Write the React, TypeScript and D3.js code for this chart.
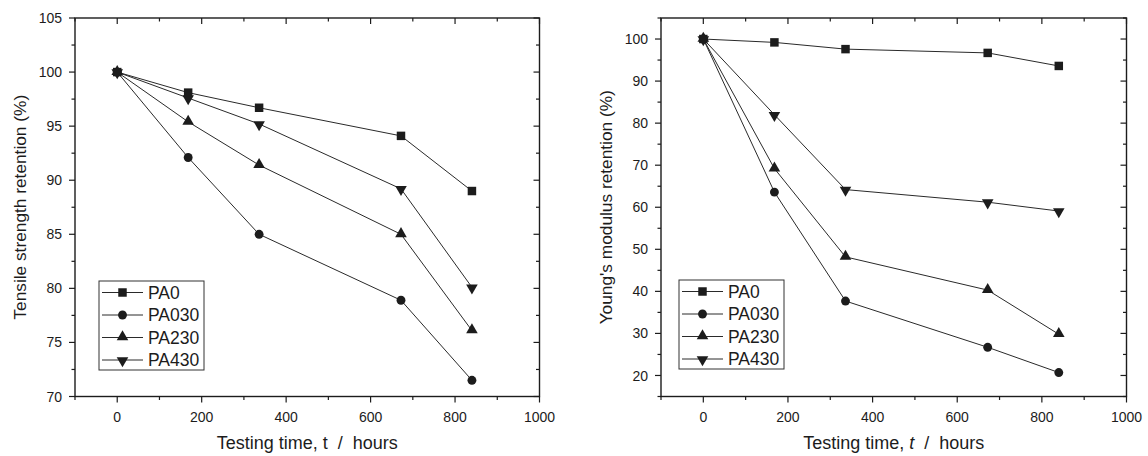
import React from "react";
import * as d3 from "d3";

const seriesNames = ["PA0", "PA030", "PA230", "PA430"];
const timeHours = [0, 168, 336, 672, 840];

const tensilePA0 = [100, 98.1, 96.7, 94.1, 89.0];
const tensilePA030 = [100, 92.1, 85.0, 78.9, 71.5];
const tensilePA230 = [100, 95.4, 91.4, 85.0, 76.1];
const tensilePA430 = [100, 97.6, 95.2, 89.2, 80.1];

const modulusPA0 = [100, 99.2, 97.6, 96.7, 93.6];
const modulusPA030 = [100, 63.6, 37.7, 26.7, 20.7];
const modulusPA230 = [100, 69.2, 48.2, 40.3, 29.8];
const modulusPA430 = [100, 82.0, 64.2, 61.2, 59.1];

const xMajorTicks = [0, 200, 400, 600, 800, 1000];
const xMinorTicks = [-100, 100, 300, 500, 700, 900];
const tensileMajorTicks = [70, 75, 80, 85, 90, 95, 100, 105];
const tensileMinorTicks = [72.5, 77.5, 82.5, 87.5, 92.5, 97.5, 102.5];
const modulusMajorTicks = [20, 30, 40, 50, 60, 70, 80, 90, 100];
const modulusMinorTicks = [15, 25, 35, 45, 55, 65, 75, 85, 95, 105];

const markerTypes = ["square", "circle", "triangle", "triangleDown"];

const FONT = "'Liberation Sans', Arial, Helvetica, sans-serif";
const INK = "#1c1c1c";
const LINE = "#2a2a2a";

function symbolPath(type: string) {
  if (type === "square") return d3.symbol(d3.symbolSquare, 72)()!;
  if (type === "circle") return d3.symbol(d3.symbolCircle, 62)()!;
  return d3.symbol(d3.symbolTriangle, 58)()!;
}

function Marker({ type, x, y }: { type: string; x: number; y: number }) {
  const rot = type === "triangleDown" ? 180 : 0;
  const dy = type === "triangle" ? -0.5 : type === "triangleDown" ? 0.5 : 0;
  return (
    <path
      d={symbolPath(type)}
      transform={`translate(${x},${y + dy}) rotate(${rot})`}
      fill={INK}
      stroke="none"
    />
  );
}

type PanelProps = {
  left: number;
  right: number;
  top: number;
  bottom: number;
  yDomain: [number, number];
  yMajor: number[];
  yMinor: number[];
  yLabelTicks: number[];
  series: number[][];
  yTitle: string;
  italicT: boolean;
  yTitleX: number;
  legendX: number;
  legendY: number;
};

function Panel(p: PanelProps) {
  const x = d3.scaleLinear().domain([-100, 1000]).range([p.left, p.right]);
  const y = d3.scaleLinear().domain(p.yDomain).range([p.bottom, p.top]);
  const line = d3
    .line<number>()
    .x((_, i) => x(timeHours[i]))
    .y((d) => y(d));
  const maj = 6;
  const min = 3.5;
  const cx = (p.left + p.right) / 2;
  const cy = (p.top + p.bottom) / 2;
  const rowH = 22.5;
  return (
    <g>
      {p.series.map((s, k) => (
        <path key={"l" + k} d={line(s)!} fill="none" stroke={LINE} strokeWidth={1} />
      ))}
      {p.series.map((s, k) =>
        s.map((v, i) => (
          <Marker key={"m" + k + "-" + i} type={markerTypes[k]} x={x(timeHours[i])} y={y(v)} />
        ))
      )}
      <rect
        x={p.left}
        y={p.top}
        width={p.right - p.left}
        height={p.bottom - p.top}
        fill="none"
        stroke={INK}
        strokeWidth={1.4}
      />
      {xMajorTicks.map((t) => (
        <g key={"xM" + t}>
          <line x1={x(t)} x2={x(t)} y1={p.bottom} y2={p.bottom + maj} stroke={INK} strokeWidth={1.2} />
          <line x1={x(t)} x2={x(t)} y1={p.top} y2={p.top + maj} stroke={INK} strokeWidth={1.2} />
          <text
            x={x(t)}
            y={p.bottom + 25}
            textAnchor="middle"
            fontFamily={FONT}
            fontSize={14}
            fill={INK}
          >
            {t}
          </text>
        </g>
      ))}
      {xMinorTicks.map((t) => (
        <g key={"xm" + t}>
          <line x1={x(t)} x2={x(t)} y1={p.bottom} y2={p.bottom + min} stroke={INK} strokeWidth={1.2} />
          <line x1={x(t)} x2={x(t)} y1={p.top} y2={p.top + min} stroke={INK} strokeWidth={1.2} />
        </g>
      ))}
      {p.yMajor.map((t) => (
        <g key={"yM" + t}>
          <line x1={p.left - maj} x2={p.left} y1={y(t)} y2={y(t)} stroke={INK} strokeWidth={1.2} />
          <line x1={p.right - maj} x2={p.right} y1={y(t)} y2={y(t)} stroke={INK} strokeWidth={1.2} />
        </g>
      ))}
      {p.yMinor.map((t) => (
        <g key={"ym" + t}>
          <line x1={p.left - min} x2={p.left} y1={y(t)} y2={y(t)} stroke={INK} strokeWidth={1.2} />
          <line x1={p.right - min} x2={p.right} y1={y(t)} y2={y(t)} stroke={INK} strokeWidth={1.2} />
        </g>
      ))}
      {p.yLabelTicks.map((t) => (
        <text
          key={"yl" + t}
          x={p.left - 13}
          y={y(t)}
          dy="0.36em"
          textAnchor="end"
          fontFamily={FONT}
          fontSize={14}
          fill={INK}
        >
          {t}
        </text>
      ))}
      <text
        x={cx}
        y={449}
        textAnchor="middle"
        fontFamily={FONT}
        fontSize={18}
        fill={INK}
        style={{ whiteSpace: "pre" }}
      >
        {"Testing time, "}
        <tspan fontStyle={p.italicT ? "italic" : "normal"}>t</tspan>
        {"  /  hours"}
      </text>
      <text
        transform={`translate(${p.yTitleX},${cy}) rotate(-90)`}
        textAnchor="middle"
        fontFamily={FONT}
        fontSize={17.3}
        fill={INK}
      >
        {p.yTitle}
      </text>
      <g transform={`translate(${p.legendX},${p.legendY})`}>
        <rect x={0} y={0} width={105} height={89} fill="white" stroke="#333" strokeWidth={1} />
        {seriesNames.map((name, k) => {
          const ry = 11.5 + k * rowH;
          return (
            <g key={"lg" + name}>
              <line x1={3} x2={44} y1={ry} y2={ry} stroke={LINE} strokeWidth={1} />
              <Marker type={markerTypes[k]} x={23.5} y={ry} />
              <text x={49} y={ry} dy="0.36em" fontFamily={FONT} fontSize={17.5} fill={INK}>
                {name}
              </text>
            </g>
          );
        })}
      </g>
    </g>
  );
}

export default function App() {
  return (
    <svg
      width={1148}
      height={456}
      style={{ position: "absolute", left: 0, top: 0, background: "white" }}
    >
      <rect x={0} y={0} width={1148} height={456} fill="white" />
      <Panel
        left={75}
        right={539.5}
        top={18}
        bottom={396.5}
        yDomain={[70, 105]}
        yMajor={tensileMajorTicks}
        yMinor={tensileMinorTicks}
        yLabelTicks={tensileMajorTicks}
        series={[tensilePA0, tensilePA030, tensilePA230, tensilePA430]}
        yTitle="Tensile strength retention (%)"
        italicT={false}
        yTitleX={26}
        legendX={99}
        legendY={281}
      />
      <Panel
        left={661}
        right={1126.5}
        top={18}
        bottom={396.5}
        yDomain={[15, 105]}
        yMajor={modulusMajorTicks}
        yMinor={modulusMinorTicks}
        yLabelTicks={modulusMajorTicks}
        series={[modulusPA0, modulusPA030, modulusPA230, modulusPA430]}
        yTitle="Young's modulus retention (%)"
        italicT={true}
        yTitleX={612}
        legendX={679}
        legendY={280}
      />
    </svg>
  );
}
